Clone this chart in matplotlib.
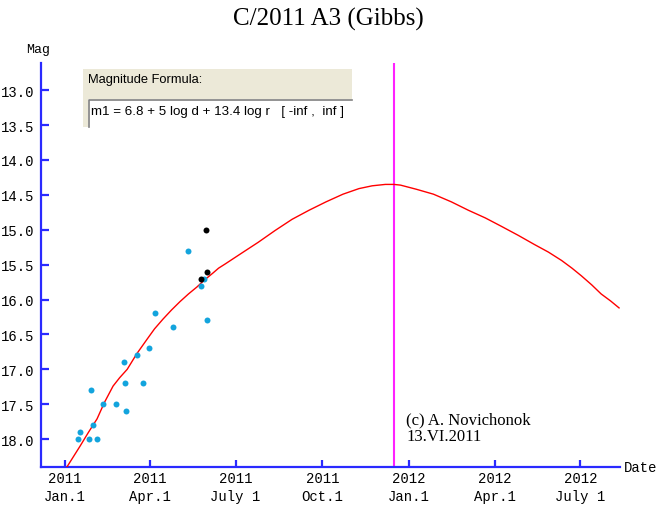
import numpy as np
import matplotlib
matplotlib.use("Agg")
import matplotlib.pyplot as plt
from matplotlib.patches import Rectangle

# days counted from 2011 Jan.1
curve_day = [2, 9, 16, 25, 34, 42, 51, 58, 66, 76, 87, 95, 104, 113, 122, 131, 140,
             148, 157, 163, 170, 188, 205, 223, 241, 259, 277, 295, 312, 326,
             340, 349, 356, 373, 391, 410, 428, 446, 463, 481, 498, 513, 527,
             538, 548, 559, 569, 579, 588]
curve_mag = [18.40, 18.25, 18.10, 17.90, 17.71, 17.47, 17.24, 17.12, 17.00, 16.78,
             16.57, 16.42, 16.28, 16.15, 16.03, 15.92, 15.82, 15.72, 15.62, 15.55,
             15.49, 15.33, 15.18, 15.01, 14.85, 14.72, 14.60, 14.49, 14.41, 14.37,
             14.35, 14.35, 14.36, 14.42, 14.49, 14.60, 14.72, 14.83, 14.95, 15.08,
             15.21, 15.32, 15.44, 15.55, 15.66, 15.79, 15.92, 16.02, 16.12]

obs_day = [14.1, 15.6, 25.9, 34.4, 27.7, 30.1, 40.7, 54.3, 65.2, 63.8, 62.4, 76.9,
           82.7, 89.0, 96.0, 114.9, 130.9, 144.4, 147.9, 151.0]
obs_mag = [18.0, 17.9, 18.0, 18.0, 17.3, 17.8, 17.5, 17.5, 17.6, 17.2, 16.9, 16.8,
           17.2, 16.7, 16.2, 16.4, 15.3, 15.8, 15.7, 16.3]

obs2_day = [149.7, 151.0, 144.4]
obs2_mag = [15.0, 15.6, 15.7]

perihelion_day = 349

xtick_dates = ["2011-01-01", "2011-04-01", "2011-07-01", "2011-10-01",
               "2012-01-01", "2012-04-01", "2012-07-01"]
xtick_labels = ["2011\nJan.1", "2011\nApr.1", "2011\nJuly 1", "2011\nOct.1",
                "2012\nJan.1", "2012\nApr.1", "2012\nJuly 1"]
ytick_vals = [13.0, 13.5, 14.0, 14.5, 15.0, 15.5, 16.0, 16.5, 17.0, 17.5, 18.0]

base = np.datetime64("2011-01-01")
xtick_pos = [(np.datetime64(d) - base).astype(int) for d in xtick_dates]

axis_col = "#2a2aff"
mono = "Liberation Mono"
serif = "Liberation Serif"

fig = plt.figure(figsize=(6.56, 5.10), dpi=100)
ax = fig.add_axes([41 / 656, 42 / 510, 579 / 656, 404 / 510])

ax.plot(curve_day, curve_mag, color="red", lw=1.0, zorder=3)
ax.plot(obs_day, obs_mag, "o", color="#13a4dd", ms=4.3, mec="none", zorder=4)
ax.plot(obs2_day, obs2_mag, "o", color="black", ms=4.3, mec="none", zorder=5)
ax.axvline(perihelion_day, color="#ff22ff", lw=1.5, zorder=2)

ax.set_xlim(-25.5, 589)
ax.set_ylim(18.4, 12.61)

for s in ["top", "right"]:
    ax.spines[s].set_visible(False)
for s in ["left", "bottom"]:
    ax.spines[s].set_color(axis_col)
    ax.spines[s].set_linewidth(1.6)

ax.set_xticks(xtick_pos)
ax.set_xticklabels(xtick_labels, family=mono, fontsize=10, linespacing=1.35)
ax.set_yticks(ytick_vals)
ax.set_yticklabels([f"{v:.1f}" for v in ytick_vals], family=mono, fontsize=10)
ax.tick_params(axis="x", direction="in", length=5, width=1.6, color=axis_col, pad=3)
ax.tick_params(axis="y", direction="in", length=6, width=1.6, color=axis_col, pad=5)

fig.text(38 / 656, 1 - 50 / 510, "Mag", family=mono, fontsize=9.5,
         ha="center", va="center")
fig.text(624 / 656, 1 - 468 / 510, "Date", family=mono, fontsize=10,
         ha="left", va="center")
fig.text(328 / 656, 1 - 19 / 510, "C/2011 A3 (Gibbs)", family=serif,
         fontsize=18, ha="center", va="center")

# formula box
fig.patches.append(Rectangle((83 / 656, 1 - 128 / 510), 269 / 656, 58 / 510,
                             transform=fig.transFigure, facecolor="#ece9d8",
                             edgecolor="none", zorder=6))
fig.patches.append(Rectangle((88 / 656, 1 - 128 / 510), 264 / 656, 28 / 510,
                             transform=fig.transFigure, facecolor="white",
                             edgecolor="none", zorder=7))
fig.lines.append(plt.Line2D([88.5 / 656, 88.5 / 656, 352 / 656],
                            [1 - 128 / 510, 1 - 100.5 / 510, 1 - 100.5 / 510],
                            transform=fig.transFigure, color="#808080", lw=1.2,
                            zorder=8))
fig.text(88 / 656, 1 - 80 / 510, "Magnitude Formula:", family="Liberation Sans",
         fontsize=9.3, ha="left", va="center", zorder=9)
fig.text(91 / 656, 1 - 112 / 510,
         "m1 = 6.8 + 5 log d + 13.4 log r   [ -inf ,  inf ]",
         family="Liberation Sans", fontsize=9.6, ha="left", va="center", zorder=9)

ax.text(362, 17.6, "(c) A. Novichonok\n13.VI.2011", family=serif, fontsize=12,
        ha="left", va="top", linespacing=1.05)

fig.savefig("out.png", dpi=100)
